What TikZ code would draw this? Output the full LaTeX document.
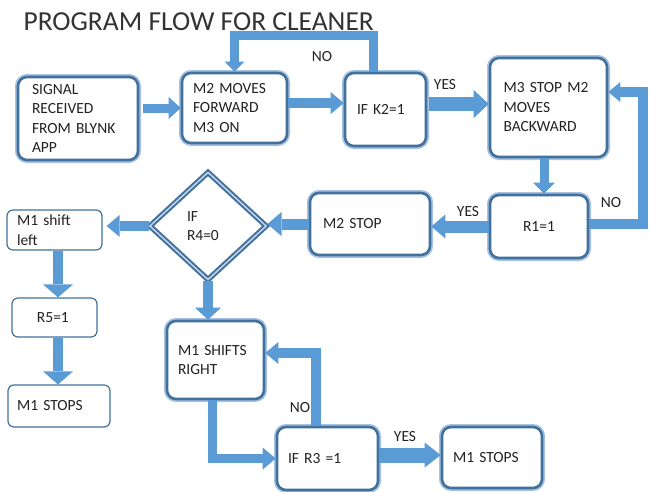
\documentclass[tikz,border=0pt]{standalone}
\usepackage{fontspec}
\setmainfont{Carlito}
\usetikzlibrary{arrows.meta,shapes.geometric,calc}
\definecolor{arrblue}{HTML}{5B9BD5}
\definecolor{bdark}{HTML}{41719C}
\definecolor{blight}{HTML}{A7C2E2}
\definecolor{txt}{HTML}{222222}
\begin{document}
\begin{tikzpicture}[x=1pt,y=-1pt,
  every node/.style={font=\fontsize{15.5}{19.5}\selectfont, text=txt},
  rbox/.style={rectangle, rounded corners=9pt, draw=bdark, line width=2.6pt, fill=white, align=left,
     preaction={draw=blight, line width=6pt}},
  tbox/.style={rectangle, rounded corners=6pt, draw=bdark, line width=1.2pt, fill=white, align=left},
  dbox/.style={diamond, draw=bdark, line width=2pt, double=blight!70, double distance=1.5pt,
     fill=white, inner sep=0pt, align=left},
  blk/.style n args={3}{draw=arrblue, line width=#1, line join=miter,
     -{Triangle[width=#2, length=#3, line width=0pt]}},
  lbl/.style={inner sep=0pt}
]
\useasboundingbox (0,0) rectangle (649,491);

\node[anchor=base west, font=\fontsize{27.5}{30}\selectfont, text=black!80] (title) at (20,30) {PROGRAM FLOW FOR CLEANER};

% boxes
\node[rbox, minimum height=83pt, text width=92pt, inner xsep=14pt] (sig) at (78,118.5) {SIGNAL\\RECEIVED\\FROM BLYNK\\APP};
\node[rbox, minimum height=70pt, text width=83pt, inner xsep=11pt] (m2) at (234.5,108) {M2 MOVES\\FORWARD\\M3 ON};
\node[rbox, minimum height=73pt, text width=57pt, inner xsep=12pt] (k2) at (385.5,109.5) {IF K2=1};
\node[rbox, minimum height=99pt, text width=90pt, inner xsep=13.5pt] (m3) at (548.5,107.5) {M3 STOP M2\\MOVES\\BACKWARD};
\node[rbox, minimum height=63pt, text width=74pt, inner xsep=12pt, align=center] (r1) at (539,226.5) {R1=1};
\node[rbox, minimum height=62pt, text width=94pt, inner xsep=13pt] (m2s) at (370,224) {M2 STOP};
\node[dbox, minimum width=117pt, minimum height=108pt, text width=42pt] (dia) at (208,226) {IF\\R4=0};
\node[tbox, minimum height=40pt, text width=75pt, inner xsep=10pt] (msl) at (54.5,230) {M1 shift\\left};
\node[tbox, minimum height=39pt, text width=35pt, inner xsep=25pt] (r5) at (54.5,317.5) {R5=1};
\node[tbox, minimum height=42pt, text width=84pt, inner xsep=9pt] (ms1) at (59,406) {M1 STOPS};
\node[rbox, minimum height=78pt, text width=75pt, inner xsep=11pt] (msr) at (215.5,360) {M1 SHIFTS\\RIGHT};
\node[rbox, minimum height=63pt, text width=79pt, inner xsep=11pt] (r3) at (327.5,458.5) {IF R3 =1};
\node[rbox, minimum height=61pt, text width=78pt, inner xsep=11pt] (msr2) at (492,457.5) {M1 STOPS};

% connectors
\coordinate (c1) at ($(sig.east |- m2.west)+(4,0)$);
\draw[blk={9pt}{22pt}{12pt}] (c1) -- (m2.west);
\coordinate (c2) at ($(m2.east)+(0,-5)$);
\draw[blk={10pt}{22pt}{13pt}] (c2) -- (c2 -| k2.west);
\coordinate (c3) at ($(k2.east)+(2,-5.5)$);
\draw[blk={14pt}{28pt}{15pt}] (c3) -- (c3 -| m3.west);
\coordinate (ck) at ($(k2.north)+(-12.5,0)$);
\draw[blk={9pt}{20pt}{10pt}] (ck) -- ++(0,-36) -| (m2.north);
\coordinate (c4) at ($(m3.south)+(-4.5,0)$);
\draw[blk={9pt}{22pt}{11pt}] (c4) -- (c4 |- r1.north);
\coordinate (c5) at ($(r1.east)+(0,-2.5)$);
\coordinate (c5e) at ($(m3.east)+(0,-15.5)$);
\draw[blk={10pt}{20pt}{12pt}] (c5) -- ++(54,0) |- (c5e);
\draw[blk={12pt}{24pt}{14pt}] (r1.west) -- (r1.west -| m2s.east);
\draw[blk={11pt}{24pt}{14pt}] (m2s.west) -- (m2s.west -| dia.east);
\draw[blk={10pt}{22pt}{13pt}, shorten >=4pt] (dia.west) -- (dia.west -| msl.east);
\coordinate (c9) at ($(msl.south)+(3.5,0)$);
\draw[blk={10pt}{30pt}{13pt}] (c9) -- (c9 |- r5.north);
\coordinate (c10) at ($(r5.south)+(3.5,0)$);
\draw[blk={10pt}{30pt}{13pt}] (c10) -- (c10 |- ms1.north);
\draw[blk={10pt}{26pt}{12pt}] (dia.south) -- (dia.south |- msr.north);
\coordinate (c12) at ($(msr.south)+(-3,0)$);
\draw[blk={9pt}{22pt}{13pt}] (c12) |- (r3.west);
\coordinate (c13) at ($(r3.north)+(-11.5,0)$);
\coordinate (c13e) at ($(msr.east)+(0,-7)$);
\draw[blk={10pt}{22pt}{13pt}] (c13) |- (c13e);
\coordinate (c14) at ($(r3.east)+(0,-3.5)$);
\draw[blk={15pt}{25pt}{16pt}] (c14) -- (c14 -| msr2.west);

% labels
\node[lbl] (lno1) at (322,57) {NO};
\node[lbl] (lyes1) at (445,85) {YES};
\node[lbl] (lno2) at (611,203) {NO};
\node[lbl] (lyes2) at (468,212) {YES};
\node[lbl] (lno3) at (300,408) {NO};
\node[lbl] (lyes3) at (405,437) {YES};
\end{tikzpicture}
\end{document}
